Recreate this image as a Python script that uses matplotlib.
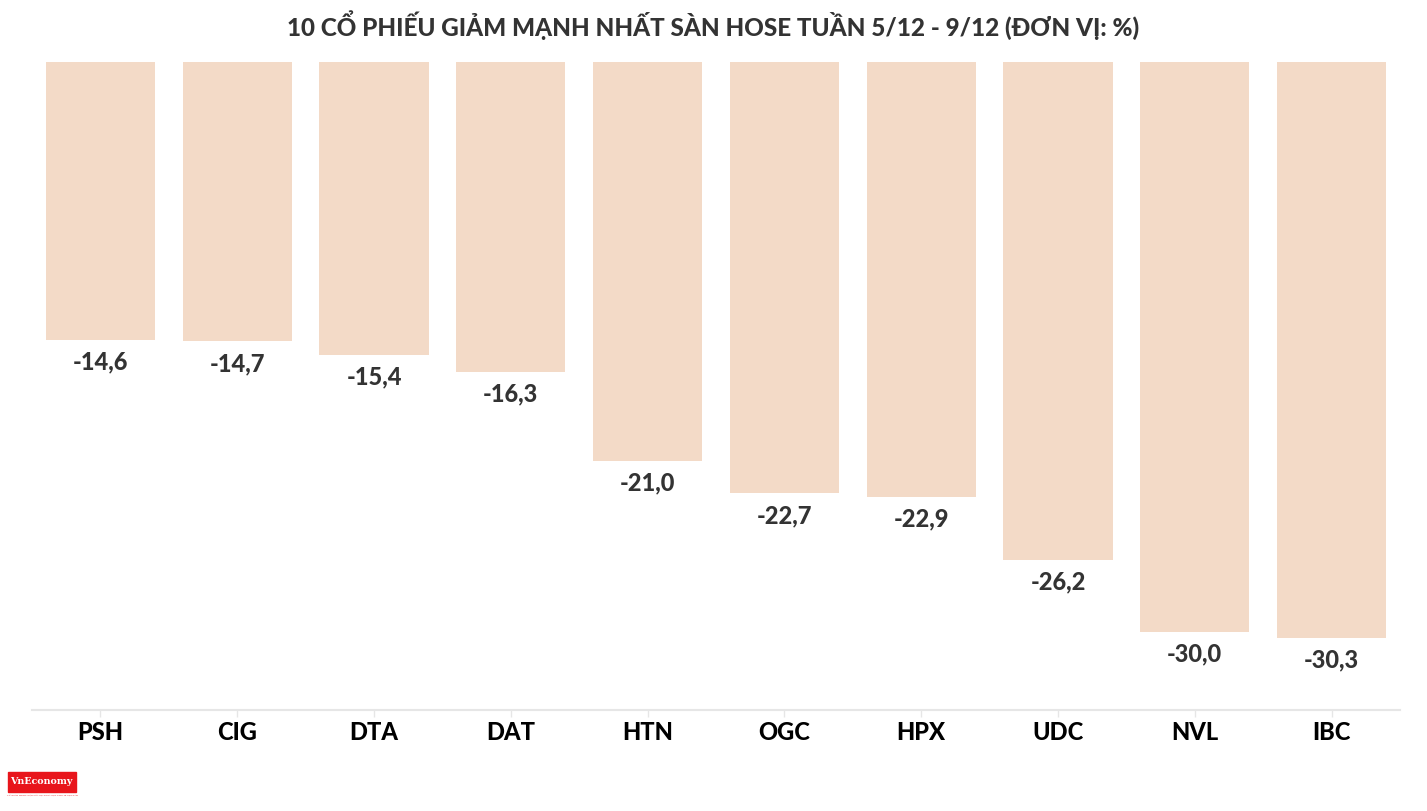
import matplotlib
matplotlib.use("Agg")
import matplotlib.pyplot as plt
from matplotlib.patches import Rectangle

categories = ["PSH", "CIG", "DTA", "DAT", "HTN", "OGC", "HPX", "UDC", "NVL", "IBC"]
values = [-14.6, -14.7, -15.4, -16.3, -21.0, -22.7, -22.9, -26.2, -30.0, -30.3]
title = "10 CỔ PHIẾU GIẢM MẠNH NHẤT SÀN HOSE TUẦN 5/12 - 9/12 (ĐƠN VỊ: %)"

bar_color = "#F3DAC7"
text_color = "#333333"
font = "Lato"

fig = plt.figure(figsize=(14.27, 8.11), dpi=100)
ax = fig.add_axes([32/1427, 101/811, 1368/1427, 648/811])
x = list(range(len(categories)))
ax.bar(x, values, width=0.797, color=bar_color, zorder=2)
ax.set_xlim(-0.5, len(categories) - 0.5)
ax.set_ylim(-34.09, 0)

for xi, v in zip(x, values):
    ax.annotate(f"{v:.1f}".replace(".", ","), xy=(xi, v), xytext=(0, -22),
                textcoords="offset pixels",
                ha="center", va="center", fontsize=17, fontweight=900,
                color=text_color, family=font)

for s in ["top", "right", "left"]:
    ax.spines[s].set_visible(False)
ax.spines["bottom"].set_color("#e6e6e6")
ax.spines["bottom"].set_linewidth(1.5)
ax.set_yticks([])
ax.set_xticks(x)
ax.set_xticklabels(categories, fontsize=17, fontweight=900, color="black", family=font)
ax.tick_params(axis="x", length=5, color="#e6e6e6", width=1, pad=3)

fig.text(0.5, 1 - 25/811, title, ha="center", va="center", fontsize=17.5,
         fontweight=900, color=text_color, family=font)

# logo
fig.patches.append(Rectangle((8/1427, 1 - 792/811), 68/1427, 20/811,
                             transform=fig.transFigure, color="#e8151b", zorder=5))
fig.text(41/1427, 1 - 782/811, "VnEconomy", ha="center", va="center", fontsize=6.8,
         color="white", family="DejaVu Serif", fontweight="bold", zorder=6)
fig.text(42/1427, 1 - 796/811, "CƠ QUAN NGÔN LUẬN CỦA HỘI KHOA HỌC KINH TẾ VIỆT NAM",
         ha="center", va="center", fontsize=1.6, color="#e8151b", family="DejaVu Sans")

fig.savefig("out.png", dpi=100)
